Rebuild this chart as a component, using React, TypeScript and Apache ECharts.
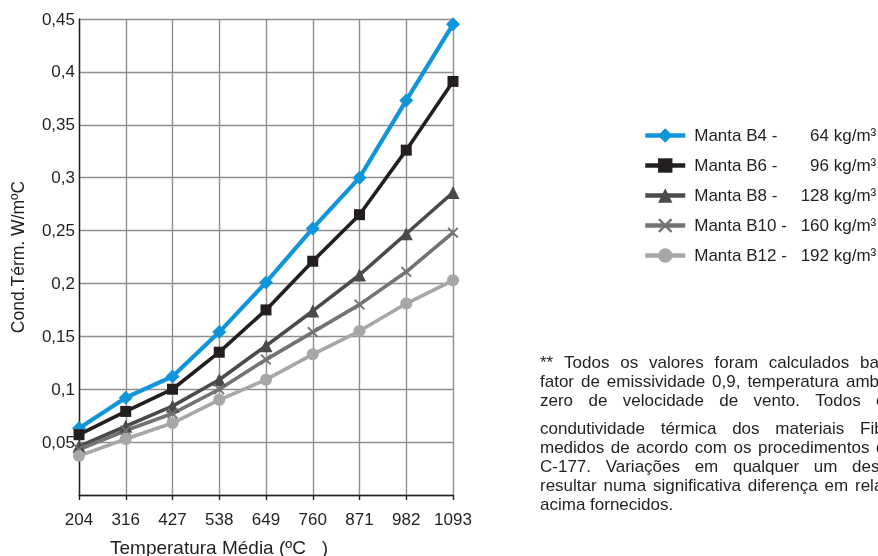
import React, { useEffect, useRef } from "react";
import * as echarts from "echarts";

const categories = ["204", "316", "427", "538", "649", "760", "871", "982", "1093"];
const seriesNames = ["Manta B4", "Manta B6", "Manta B8", "Manta B10", "Manta B12"];
const densities = ["64 kg/m³", "96 kg/m³", "128 kg/m³", "160 kg/m³", "192 kg/m³"];
const b4 = [0.063, 0.092, 0.112, 0.154, 0.201, 0.252, 0.3, 0.373, 0.445];
const b6 = [0.057, 0.079, 0.1, 0.135, 0.175, 0.221, 0.265, 0.326, 0.391];
const b8 = [0.046, 0.065, 0.084, 0.109, 0.141, 0.174, 0.208, 0.247, 0.286];
const b10 = [0.043, 0.061, 0.077, 0.1, 0.128, 0.154, 0.18, 0.211, 0.248];
const b12 = [0.037, 0.053, 0.068, 0.09, 0.109, 0.133, 0.155, 0.181, 0.203];
const yTicks = { min: 0, max: 0.45, interval: 0.05 };

const xAxisName = "Temperatura Média (ºC   )";
const yAxisName = "Cond.Térm. W/mºC";

// note lines: words, and start x of last word (for justified lines); null = natural
const noteLines: { words: string[]; lastX: number | null }[] = [
  { words: ["**", "Todos", "os", "valores", "foram", "calculados", "bas"], lastX: 860 },
  { words: ["fator", "de", "emissividade", "0,9,", "temperatura", "amb"], lastX: 846 },
  { words: ["zero", "de", "velocidade", "de", "vento.", "Todos", "os"], lastX: 876 },
  { words: ["condutividade", "térmica", "dos", "materiais", "Fib"], lastX: 860 },
  { words: ["medidos", "de", "acordo", "com", "os", "procedimentos", "d"], lastX: 876 },
  { words: ["C-177.", "Variações", "em", "qualquer", "um", "deste"], lastX: 852 },
  { words: ["resultar", "numa", "significativa", "diferença", "em", "rela"], lastX: 855 },
  { words: ["acima", "fornecidos."], lastX: null },
];
const noteY = [362, 381, 400, 428, 447, 466, 485, 504];

const FONT = "'Liberation Sans', Arial, sans-serif";

export default function App() {
  const ref = useRef<HTMLDivElement>(null);
  useEffect(() => {
    if (!ref.current) return;
    const chart = echarts.init(ref.current, undefined, { renderer: "svg" });

    const noteFontSize = 17;
    const canvas = document.createElement("canvas");
    const ctx = canvas.getContext("2d")!;
    ctx.font = `${noteFontSize}px 'Liberation Sans'`;
    const x0 = 540;
    const noteGraphics: any[] = [];
    noteLines.forEach((ln, i) => {
      const y = noteY[i];
      if (ln.lastX == null) {
        noteGraphics.push({
          type: "text", x: x0, y,
          style: { text: ln.words.join(" "), fontSize: noteFontSize, fontFamily: FONT, fill: "#231f20", verticalAlign: "middle" },
        });
        return;
      }
      const widths = ln.words.map((w) => ctx.measureText(w).width);
      const sumBefore = widths.slice(0, -1).reduce((a, b) => a + b, 0);
      const gap = Math.max(4, (ln.lastX - x0 - sumBefore) / (ln.words.length - 1));
      let x = x0;
      ln.words.forEach((w, k) => {
        noteGraphics.push({
          type: "text", x, y,
          style: { text: w, fontSize: noteFontSize, fontFamily: FONT, fill: "#231f20", verticalAlign: "middle" },
        });
        x += widths[k] + gap;
      });
    });

    const crossPath =
      "path://M0,1.2L1.2,0L5,3.8L8.8,0L10,1.2L6.2,5L10,8.8L8.8,10L5,6.2L1.2,10L0,8.8L3.8,5Z";

    const mk = (name: string, data: number[], color: string, symbol: string, size: number, width: number) => ({
      name, type: "line", data, symbol, symbolSize: size, showSymbol: true,
      lineStyle: { color, width }, itemStyle: { color }, z: 3,
    });

    chart.setOption({
      animation: false,
      textStyle: { fontFamily: FONT },
      grid: { left: 79, right: 425, top: 19, bottom: 61, containLabel: false },
      xAxis: {
        type: "category", data: categories, boundaryGap: false,
        axisLine: { lineStyle: { color: "#231f20", width: 1.4 } },
        axisTick: { show: true, interval: 0, length: 5, lineStyle: { color: "#231f20", width: 1.4 } },
        axisLabel: { interval: 0, hideOverlap: false, color: "#231f20", fontSize: 17, margin: 16, fontFamily: FONT },
        splitLine: { show: true, interval: 0, lineStyle: { color: "#8f8f8f", width: 1.4 } },
      },
      yAxis: {
        type: "value", min: yTicks.min, max: yTicks.max, interval: yTicks.interval,
        axisLine: { show: true, lineStyle: { color: "#231f20", width: 1.4 } },
        axisTick: { show: false },
        axisLabel: {
          color: "#231f20", fontSize: 17, margin: 4, fontFamily: FONT,
          formatter: (v: number) => (v === 0 ? "" : String(+v.toFixed(2)).replace(".", ",")),
        },
        splitLine: { show: true, lineStyle: { color: "#8f8f8f", width: 1.4 } },
      },
      legend: {
        orient: "vertical", left: 643, top: 127, padding: 0, itemWidth: 40, itemHeight: 18, itemGap: 13,
        data: seriesNames,
        lineStyle: { width: 4.5 },
        formatter: (name: string) => {
          const i = seriesNames.indexOf(name);
          return `{g| }{a|${name} -}{b|${densities[i]}}`;
        },
        textStyle: {
          color: "#231f20", fontSize: 17, fontFamily: FONT,
          rich: {
            g: { width: 4, fontSize: 17, fontFamily: FONT },
            a: { width: 106, fontSize: 17, fontFamily: FONT, color: "#231f20" },
            b: { width: 76, align: "right", fontSize: 17, fontFamily: FONT, color: "#231f20" },
          },
        },
      },
      series: [
        mk(seriesNames[0], b4, "#1095da", "diamond", 14, 4.2),
        mk(seriesNames[1], b6, "#231f20", "rect", 11, 3.6),
        mk(seriesNames[2], b8, "#4a4a4c", "triangle", 13, 3.6),
        mk(seriesNames[3], b10, "#737373", crossPath, 11, 3.6),
        mk(seriesNames[4], b12, "#a7a7a7", "circle", 12, 3.6),
      ],
      graphic: [
        {
          type: "text", x: 110, y: 547,
          style: { text: xAxisName, fontSize: 19, fontFamily: FONT, fill: "#231f20", verticalAlign: "middle" },
        },
        {
          type: "text", x: 18, y: 257, rotation: Math.PI / 2,
          style: { text: yAxisName, fontSize: 17.5, fontFamily: FONT, fill: "#231f20", align: "center", verticalAlign: "middle" },
        },
        ...noteGraphics,
      ],
    });
    return () => chart.dispose();
  }, []);
  return <div ref={ref} style={{ position: "fixed", left: 0, top: 0, width: 878, height: 556 }} />;
}
